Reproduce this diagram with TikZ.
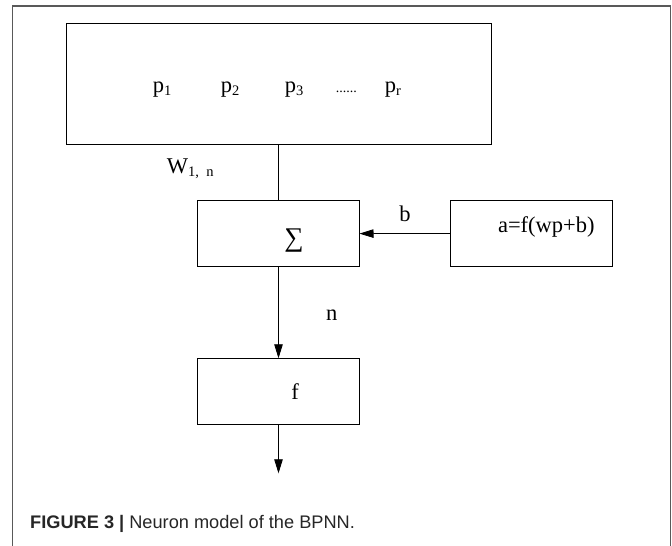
\documentclass[tikz,border=0pt]{standalone}
\usepackage{fontspec}
\setmainfont{Liberation Serif}
\newfontfamily\capfont{Liberation Sans}
\usetikzlibrary{arrows.meta}
\newcommand\mysub[1]{\raisebox{-3pt}{\fontsize{14.5}{14.5}\selectfont #1}}
\begin{document}
\begin{tikzpicture}[x=1pt,y=-1pt,
  box/.style={draw, line width=0.8pt, inner sep=0, outer sep=0},
  conn/.style={line width=0.8pt},
  arr/.style={line width=0.8pt, -{Triangle[length=14pt,width=8.5pt]}},
  txt/.style={inner sep=0, anchor=base, font=\fontsize{22.5}{22.5}\selectfont},
  frame/.style={draw=black!65, line width=1.3pt}]
\useasboundingbox (0,0) rectangle (672,546);
\draw[frame] (12.5,546) -- (12.5,6) -- (670.5,6) -- (670.5,546);
% boxes
\node[box, minimum width=425pt, minimum height=121.4pt] (top) at (278.5,84) {};
\node[box, minimum width=162pt, minimum height=66.2pt] (sig) at (278.5,233.6) {};
\node[box, minimum width=162pt, minimum height=66.7pt] (rbox) at (531.7,233.4) {};
\node[box, minimum width=162pt, minimum height=66pt] (fbox) at (278.5,391.3) {};
\coordinate (out) at (278.5,473.3);
% texts
\node[txt] (p1) at (162,92) {p\mysub{1}};
\node[txt] (p2) at (230,92) {p\mysub{2}};
\node[txt] (p3) at (294,92) {p\mysub{3}};
\node[txt, font=\fontsize{14}{14}\selectfont] (dots) at (346.3,92) {......};
\node[txt] (pr) at (392.8,92) {p\mysub{r}};
\node[txt, anchor=base west] (w) at (166.7,173.3) {W\mysub{1,\ \ n}};
\node[txt, font=\fontsize{27}{27}\selectfont] (sum) at (294,246) {∑};
\node[txt] (b) at (405,221.7) {b};
\node[txt] (afun) at (546.3,232) {a=f(wp+b)};
\node[txt] (n) at (331.7,320) {n};
\node[txt] (f) at (295,399.3) {f};
% connectors
\draw[conn] (top.south) -- (sig.north);
\draw[arr] (rbox.west) -- (sig.east);
\draw[arr] (sig.south) -- (fbox.north);
\draw[arr] (fbox.south) -- (out);
% caption
\node[inner sep=0, anchor=base west, font=\capfont\fontsize{18.2}{18.2}\selectfont, text=black!85] (cap) at (30,528.3) {\textbf{FIGURE 3 |} Neuron model of the BPNN.};
\end{tikzpicture}
\end{document}
